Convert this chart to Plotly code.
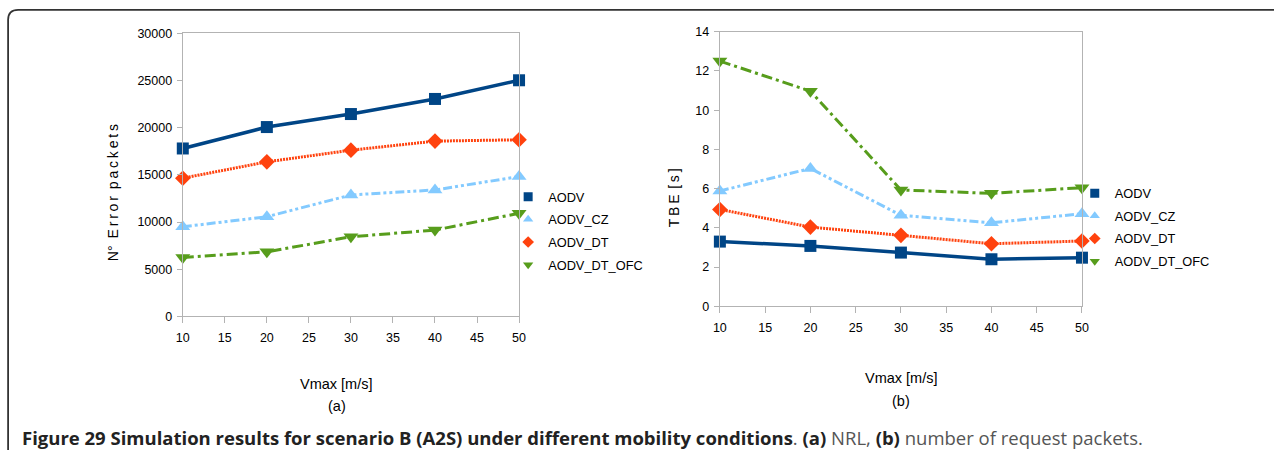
import plotly.graph_objects as go

W, H = 1281, 457

# measured mapping of the photographed page: shown = S * figure + C
SX, CX = 0.988, 7.9
SY, CY = 0.966, 7.7

x_vals = [10, 20, 30, 40, 50]
series_names = ["AODV", "AODV_CZ", "AODV_DT", "AODV_DT_OFC"]

# Panel (a): N° Error packets
err_aodv = [17800, 20070, 21450, 23050, 25030]
err_cz = [9500, 10560, 12870, 13400, 14820]
err_dt = [14650, 16380, 17620, 18580, 18720]
err_ofc = [6240, 6840, 8440, 9150, 10930]

# Panel (b): TBE [s]
tbe_aodv = [3.30, 3.08, 2.74, 2.40, 2.48]
tbe_cz = [5.88, 7.03, 4.64, 4.26, 4.72]
tbe_dt = [4.94, 4.04, 3.62, 3.19, 3.33]
tbe_ofc = [12.5, 10.97, 5.93, 5.76, 6.05]

colors = ["#004586", "#83CAFF", "#FF420E", "#579D1C"]
symbols = ["square", "triangle-up", "diamond", "triangle-down"]
dashes = ["solid", "9px,3px,3px,3px,3px,3px", "2px,1px", "11px,4px,3px,4px"]
widths = [3.5, 3, 3, 3]
msizes = [12, 13, 12, 13]

FONT = "Liberation Sans, Arial, sans-serif"


def px_x(p):
    """target pixel x -> paper fraction"""
    return ((p - CX) / SX) / W


def px_y(p):
    """target pixel y (from top) -> paper fraction"""
    return 1 - ((p - CY) / SY) / H


fig = go.Figure()

panel_a = [err_aodv, err_cz, err_dt, err_ofc]
panel_b = [tbe_aodv, tbe_cz, tbe_dt, tbe_ofc]

for panel, xa, ya, lg, tag in [(panel_a, "x", "y", "legend", "a"), (panel_b, "x2", "y2", "legend2", "b")]:
    for i, name in enumerate(series_names):
        fig.add_trace(go.Scatter(
            x=x_vals, y=panel[i], name=name, mode="lines+markers",
            line=dict(color=colors[i], width=widths[i], dash=dashes[i]),
            marker=dict(symbol=symbols[i], size=msizes[i], color=colors[i]),
            xaxis=xa, yaxis=ya, showlegend=False, cliponaxis=False,
        ))
    # legend keys (small symbol, like the original legend)
    for i, name in enumerate(series_names):
        fig.add_trace(go.Scatter(
            x=[None], y=[None], name=name, mode="markers",
            marker=dict(symbol=symbols[i], size=9, color=colors[i]),
            xaxis=xa, yaxis=ya, legend=lg, legendgroup=tag + str(i), showlegend=True,
        ))

tickfont = dict(family=FONT, size=12.5, color="#000")
axis_common = dict(
    showline=True, linecolor="#b3b3b3", linewidth=1.2, mirror=True,
    ticks="outside", tickcolor="#b3b3b3", tickwidth=1.2,
    showgrid=False, zeroline=False, tickfont=tickfont, tickformat="d",
)

legend_font = dict(family=FONT, size=12.8, color="#000")
fig.update_layout(
    width=W, height=H,
    margin=dict(l=0, r=0, t=0, b=0),
    paper_bgcolor="white", plot_bgcolor="white",
    xaxis=dict(domain=[px_x(183.5), px_x(519.4)], range=[10, 50], dtick=5, ticklen=6,
               ticklabelstandoff=4, anchor="y", **axis_common),
    yaxis=dict(domain=[px_y(316), px_y(34)], range=[0, 30000], dtick=5000, ticklen=5,
               ticklabelstandoff=2, anchor="x", **axis_common),
    xaxis2=dict(domain=[px_x(720), px_x(1081.7)], range=[10, 50], dtick=5, ticklen=6,
                ticklabelstandoff=4, anchor="y2", **axis_common),
    yaxis2=dict(domain=[px_y(306), px_y(32.3)], range=[0, 14], dtick=2, ticklen=5,
                ticklabelstandoff=2, anchor="x2", **axis_common),
    legend=dict(x=px_x(508.5), y=px_y(182), xanchor="left", yanchor="top", font=legend_font,
                itemwidth=30, tracegroupgap=3, traceorder="grouped", bgcolor="rgba(0,0,0,0)"),
    legend2=dict(x=px_x(1074.5), y=px_y(178.5), xanchor="left", yanchor="top", font=legend_font,
                 itemwidth=30, tracegroupgap=3, traceorder="grouped", bgcolor="rgba(0,0,0,0)"),
    showlegend=True,
)

ytitle_font = dict(family=FONT, size=14, color="#000")
xtitle_font = dict(family=FONT, size=14.5, color="#000")
ts = "\u2009"
ws = "\u2002"
ann = [
    dict(text="N°" + ws + ts.join("Error") + ws + ts.join("packets"),
         x=px_x(114), y=px_y(193), textangle=-90, font=ytitle_font),
    dict(text=ts.join("TBE") + ts + ts + ts.join("[s]"),
         x=px_x(675), y=px_y(197.5), textangle=-90, font=ytitle_font),
    dict(text="Vmax [m/s]", x=px_x(337.5), y=px_y(383), font=xtitle_font),
    dict(text="(a)", x=px_x(337.5), y=px_y(405), font=xtitle_font),
    dict(text="Vmax [m/s]", x=px_x(901), y=px_y(377), font=xtitle_font),
    dict(text="(b)", x=px_x(901), y=px_y(400), font=xtitle_font),
]
for a in ann:
    a.update(xref="paper", yref="paper", showarrow=False, xanchor="center", yanchor="middle")
    fig.add_annotation(**a)

caption = ("<b>Figure 29 Simulation results for scenario B (A2S) under different mobility conditions</b>"
           "<span style='color:#555'>. </span><b>(a)</b><span style='color:#555'> NRL, </span>"
           "<b>(b)</b><span style='color:#555'> number of request packets.</span>")
fig.add_annotation(text=caption, xref="paper", yref="paper", x=px_x(21), y=px_y(437),
                   xanchor="left", yanchor="middle", showarrow=False,
                   font=dict(family="Open Sans, Noto Sans, sans-serif", size=18.5, color="#222"))

# rounded frame (top-left corner)
r = 10
x0, y0 = 9, 10.5
path = (f"M {px_x(x0)},0 L {px_x(x0)},{px_y(y0 + r)} "
        f"Q {px_x(x0)},{px_y(y0)} {px_x(x0 + r)},{px_y(y0)} L 1,{px_y(y0)}")
fig.add_shape(type="path", path=path, xref="paper", yref="paper",
              line=dict(color="#333", width=1.8))

fig.write_html("out.html", config={"displayModeBar": False},
               post_script="document.body.style.margin='0';document.body.style.overflow='hidden';")
